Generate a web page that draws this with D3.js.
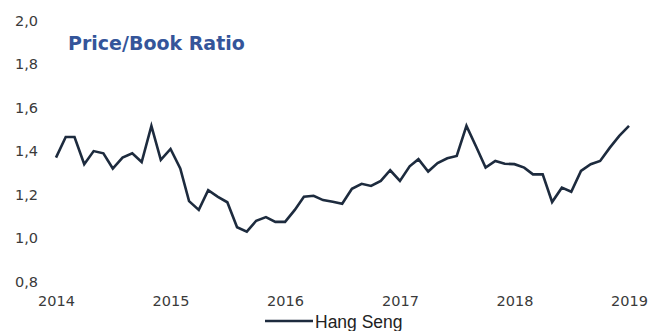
<!DOCTYPE html>
<html>
<head>
<meta charset="utf-8">
<script src="https://cdn.jsdelivr.net/npm/d3@7"></script>
<style>
  html, body { margin: 0; padding: 0; background: #ffffff; }
  svg { display: block; }
</style>
</head>
<body>
<svg id="chart" width="664" height="331"></svg>
<script>
// Hang Seng price/book ratio, monthly, Jan 2014 – Jan 2019
const startMonth = "2014-01";
const values = [
  1.37, 1.465, 1.465, 1.34, 1.40, 1.39, 1.32, 1.37, 1.39, 1.35, 1.516, 1.36,
  1.41, 1.32, 1.17, 1.13, 1.22, 1.19, 1.165, 1.05, 1.03, 1.08, 1.097, 1.075,
  1.075, 1.13, 1.19, 1.195, 1.175, 1.167, 1.158, 1.227, 1.25, 1.24, 1.263, 1.312,
  1.263, 1.33, 1.363, 1.306, 1.345, 1.367, 1.378, 1.516, 1.42, 1.324, 1.355, 1.342,
  1.34, 1.324, 1.293, 1.293, 1.166, 1.232, 1.213, 1.309, 1.34, 1.355, 1.416, 1.47,
  1.516
];
const yTicks = [0.8, 1.0, 1.2, 1.4, 1.6, 1.8, 2.0];
const xTickYears = [2014, 2015, 2016, 2017, 2018, 2019];
const title = "Price/Book Ratio";
const seriesName = "Hang Seng";

const parseMonth = d3.timeParse("%Y-%m");
const t0 = parseMonth(startMonth);
const data = values.map((v, i) => ({ date: d3.timeMonth.offset(t0, i), value: v }));

const svg = d3.select("#chart");

const x = d3.scaleTime()
  .domain([t0, d3.timeMonth.offset(t0, values.length - 1)])
  .range([56, 629]);
const y = d3.scaleLinear().domain([0.8, 2.0]).range([281.7, 20.5]);

const commaLocale = d3.formatLocale({ decimal: ",", thousands: ".", grouping: [3], currency: ["", ""] });
const fmtY = commaLocale.format(".1f");

// value axis: labels only
const yAxis = svg.append("g")
  .attr("transform", "translate(38,0)")
  .call(d3.axisLeft(y).tickValues(yTicks).tickFormat(fmtY).tickSize(0).tickPadding(0));
yAxis.select(".domain").remove();
yAxis.selectAll("text")
  .attr("font-family", "'DejaVu Sans', Verdana, sans-serif")
  .attr("font-size", "14.5px")
  .attr("fill", "#3a3a3a");

// year axis: labels only
const xAxis = svg.append("g")
  .attr("transform", "translate(0,296)")
  .call(d3.axisBottom(x)
    .tickValues(xTickYears.map(yr => new Date(yr, 0, 1)))
    .tickFormat(d3.timeFormat("%Y"))
    .tickSize(0).tickPadding(0));
xAxis.select(".domain").remove();
xAxis.selectAll("text")
  .attr("font-family", "'DejaVu Sans', Verdana, sans-serif")
  .attr("font-size", "14.5px")
  .attr("fill", "#3a3a3a");

// series line
const line = d3.line().x(d => x(d.date)).y(d => y(d.value));
svg.append("path")
  .datum(data)
  .attr("d", line)
  .attr("fill", "none")
  .attr("stroke", "#1d2b3e")
  .attr("stroke-width", 2.6)
  .attr("stroke-linejoin", "miter");

// title
svg.append("text")
  .attr("x", 68)
  .attr("y", 49.5)
  .attr("font-family", "'DejaVu Sans', Verdana, sans-serif")
  .attr("font-weight", "bold")
  .attr("font-size", "19px")
  .attr("fill", "#34559a")
  .text(title);

// legend
const legend = svg.append("g");
legend.append("line")
  .attr("x1", 265).attr("x2", 313)
  .attr("y1", 321).attr("y2", 321)
  .attr("stroke", "#1d2b3e")
  .attr("stroke-width", 2.5);
legend.append("text")
  .attr("x", 315)
  .attr("y", 327.5)
  .attr("font-family", "'Liberation Sans', Arial, sans-serif")
  .attr("font-size", "17.5px")
  .attr("fill", "#222")
  .text(seriesName);
</script>
</body>
</html>
